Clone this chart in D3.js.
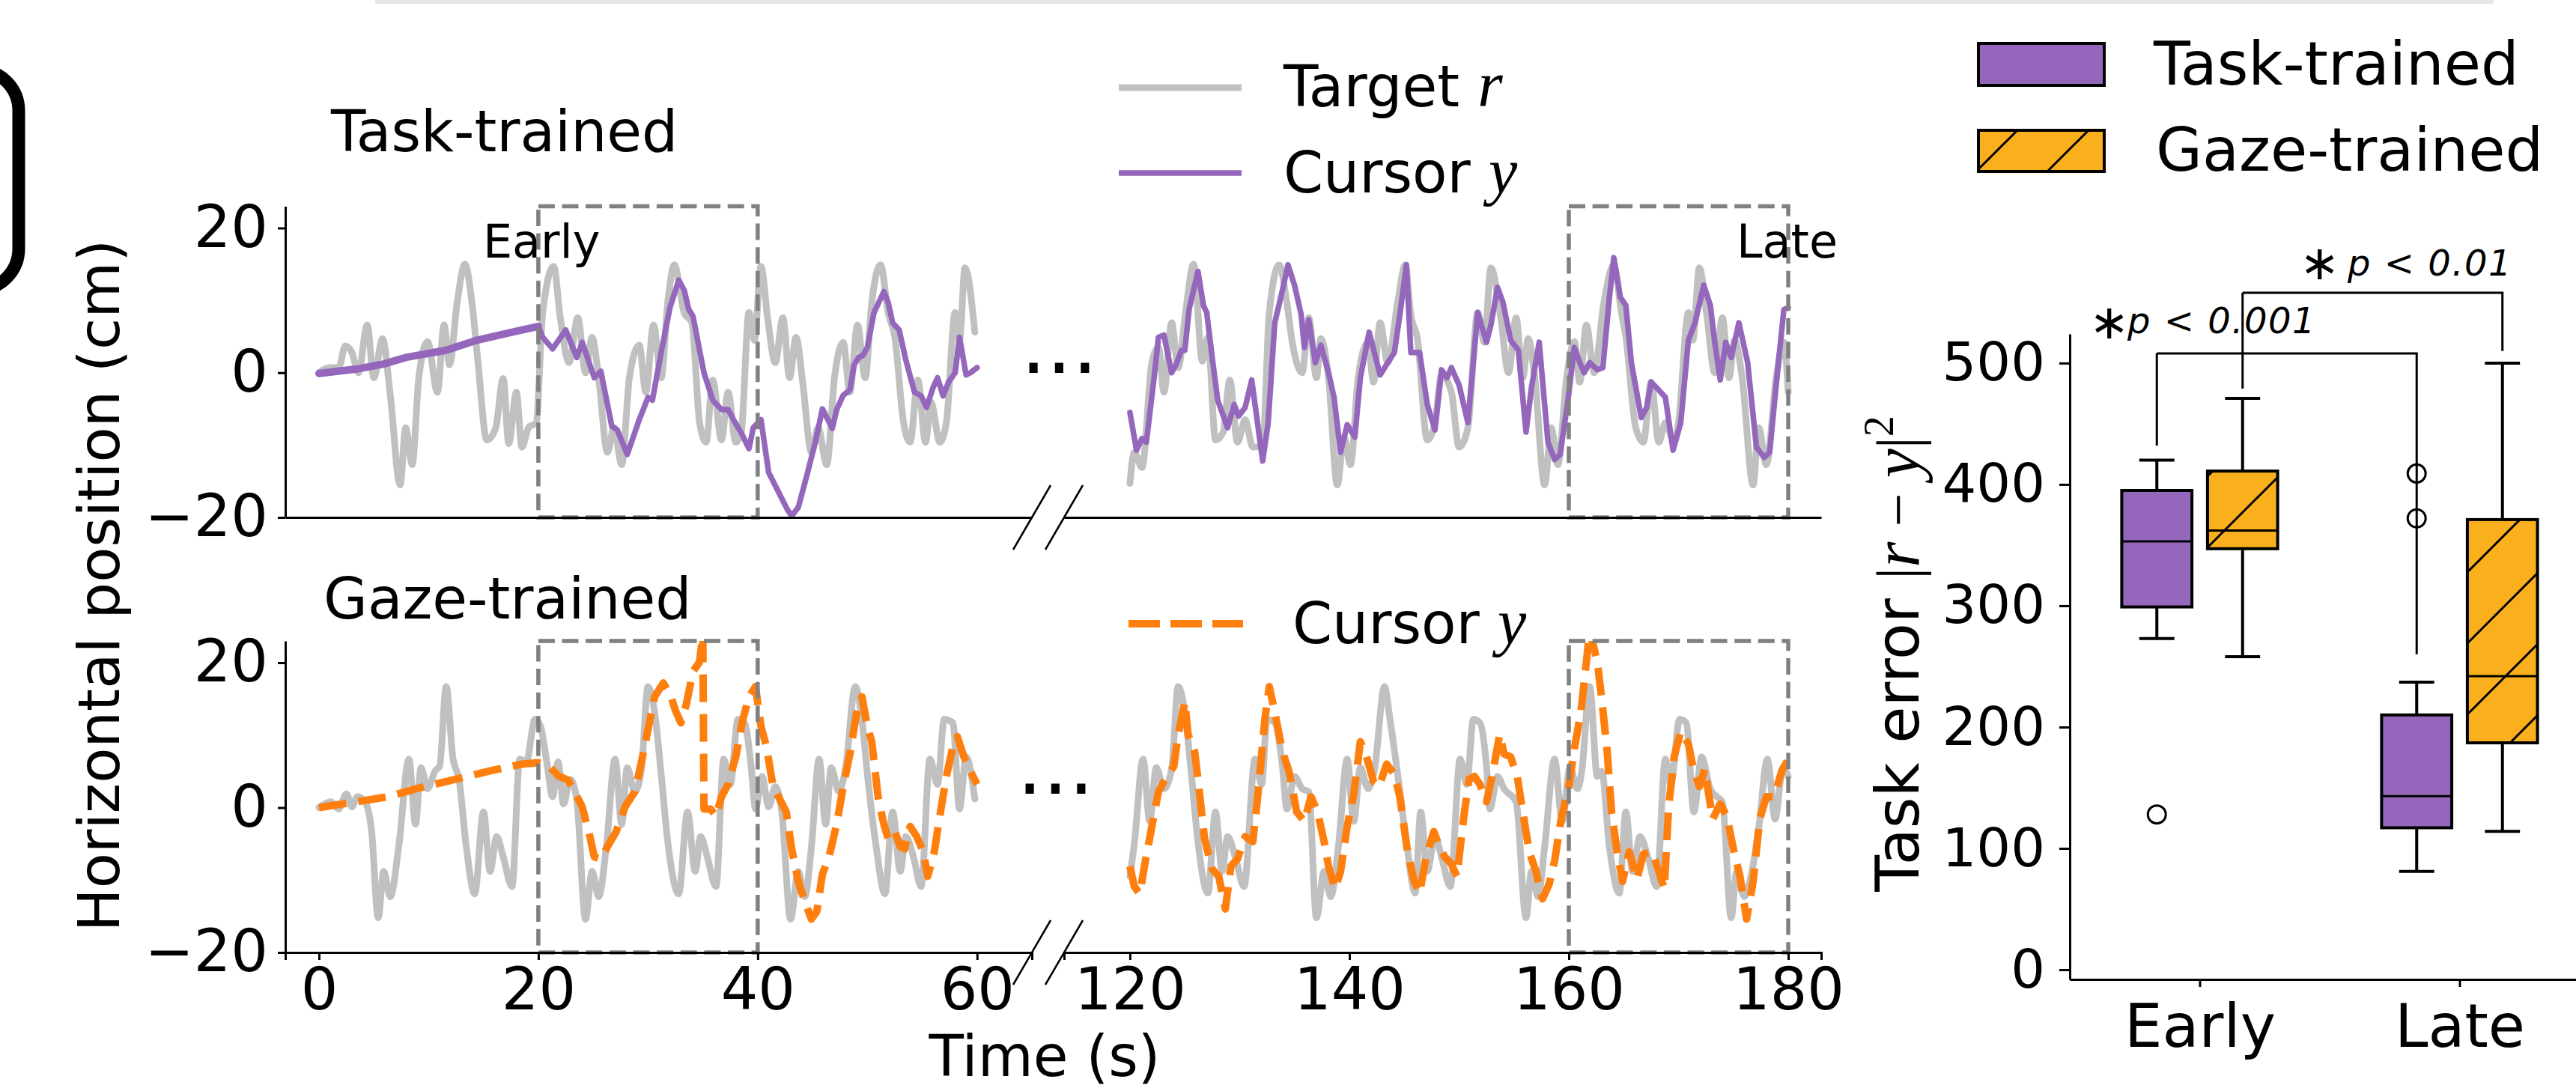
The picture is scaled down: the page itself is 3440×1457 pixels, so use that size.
<!DOCTYPE html>
<html>
<head>
<meta charset="utf-8">
<script src="https://cdn.jsdelivr.net/npm/d3@7/dist/d3.min.js"></script>
<style>
html,body{margin:0;padding:0;background:#fff;}
svg{display:block;}
</style>
</head>
<body>
<svg id="chart" width="3440" height="1457" xmlns="http://www.w3.org/2000/svg"></svg>
<script>
// ================= DATA =================
const posTicks = [-20, 0, 20];
const timeTicksEarly = [0, 20, 40, 60];
const timeTicksLate = [120, 140, 160, 180];
const windowEarly = [20, 40];
const windowLate = [160, 180];

// Task-trained panel: target r (time s, cm)
const targetTaskEarly = [[0,0],[0.9,0.7],[1.8,0.7],[2.4,3.7],[3.0,2.8],[3.6,0],[4.4,6.6],[5.0,-0.7],[5.8,4.7],[6.5,-3.1],[7.4,-15.5],[7.9,-7.6],[8.5,-12.7],[9.1,-0.7],[9.9,4.3],[10.8,-2.7],[11.4,6.6],[11.9,1.1],[12.6,9.7],[13.3,15.0],[14.0,9.0],[14.5,1.4],[15.3,-9.3],[16.1,-7.7],[16.8,-0.8],[17.3,-9.8],[18.0,-2.7],[18.5,-10.3],[19.1,-7.6],[19.8,-6.9],[20.4,8.3],[21.4,14.7],[22.0,7.6],[22.8,1.4],[23.6,7.6],[24.3,0],[24.9,4.9],[25.5,-0.7],[26.3,-11],[26.9,-7.6],[27.6,-12.7],[28.3,-0.7],[29.2,3.8],[29.8,-2.7],[30.5,6.6],[31.2,-0.7],[31.8,9.7],[32.4,14.9],[33.3,8.3],[34.0,6.9],[34.7,-6.9],[35.3,-9.6],[35.9,-1.0],[36.7,-9.3],[37.3,-2.7],[38.0,-9.6],[38.5,-8.2],[39.2,8.3],[39.7,4.5],[40.3,14.7],[40.9,7.6],[41.6,1.4],[42.3,7.6],[42.9,-0.7],[43.5,4.9],[44.1,-1.3],[44.9,-11],[45.5,-7.6],[46.3,-12.7],[47.0,-0.7],[47.8,4.2],[48.4,-2.7],[49.1,6.6],[49.8,-0.7],[50.4,9.7],[51.2,14.9],[51.9,8.3],[52.5,4.9],[53.3,-6.9],[53.9,-9.6],[54.6,-1.0],[55.3,-9.6],[55.8,-4.1],[56.6,-9.6],[57.2,-6.9],[58.0,8.3],[58.4,4.5],[58.9,14.5],[59.8,5.6]];
const targetTaskLate = [[120.0,-15.3],[120.4,-11],[121.1,-13.1],[122.0,1.4],[122.6,3.5],[123.1,-2.7],[123.8,6.9],[124.4,0.7],[125.1,8.7],[125.8,15.0],[126.6,1.6],[127.1,4.9],[127.8,-9.3],[128.5,-8.2],[129.1,-1.0],[129.8,-9.6],[130.5,-6.5],[131.2,-10.3],[132.1,-10],[132.7,8.3],[133.6,14.9],[134.3,9.7],[134.8,4.2],[135.7,0],[136.3,7.6],[137.0,-0.7],[137.4,4.7],[138.1,-0.7],[138.9,-15.5],[139.5,-8.9],[140.1,-12.7],[140.8,-0.7],[141.7,4.2],[142.2,-1.3],[142.8,6.9],[143.5,1.4],[144.4,9.7],[145.1,14.9],[145.6,8.0],[146.2,4.7],[147.1,-9.3],[147.8,-6.9],[148.4,-0.3],[149.3,-2.7],[150.0,-10.3],[150.8,-7.6],[151.7,8.3],[152.3,4.2],[152.9,14.5],[153.8,7.6],[154.5,0],[155.2,7.6],[155.8,-0.7],[156.3,4.7],[156.9,-0.7],[157.8,-15.5],[158.4,-7.6],[159.0,-12.7],[159.8,-0.7],[160.5,4.3],[161.0,-1.3],[161.6,6.6],[162.3,0],[163.2,9.7],[164.1,14.9],[164.8,8.3],[165.2,4.9],[166.1,-7.6],[166.8,-9.6],[167.5,-1.3],[168.2,-9.6],[168.8,-6.9],[169.6,-9.6],[170.0,-6.9],[170.9,8.3],[171.3,4.5],[171.9,14.5],[172.6,7.6],[173.3,0],[174.0,7.6],[174.6,-0.7],[175.1,4.5],[175.8,-0.7],[176.8,-15.5],[177.3,-7.6],[178.0,-12.7],[178.9,-0.7],[179.6,4.2],[180.0,-2.7]];
// Task-trained panel: cursor y
const cursorTaskWarmup = [[0,-0.1],[3.6,0.55],[5.9,1.2],[7.9,2.1],[11.6,3.1],[14.4,4.5],[17.3,5.5],[20.0,6.4]];
const cursorTaskEarly = [[20,6.4],[20.4,4.9],[21.3,3.3],[22.5,5.9],[23.5,2.1],[24.0,4.2],[25.1,-0.7],[25.7,0.2],[26.7,-7.4],[27.2,-7.9],[28.1,-11.3],[29.2,-6.5],[30.0,-3.4],[30.4,-3.8],[31.2,2.8],[32.0,9.0],[32.8,12.8],[33.3,11.4],[33.7,8.8],[34.1,7.8],[35.1,0],[35.9,-3.8],[36.7,-5.1],[37.3,-5.1],[37.8,-6.5],[38.6,-8.6],[39.2,-10.5],[39.6,-7.6],[40.3,-6.5],[41.0,-13.8],[41.8,-16.2],[42.7,-18.9],[43.1,-19.8],[43.7,-18.6],[44.5,-14.1],[45.3,-9.3],[45.9,-5.0],[46.8,-7.7],[47.2,-5.1],[47.8,-3.1],[48.4,-2.4],[48.8,1.1],[49.2,2.1],[49.6,2.4],[50.0,3.5],[50.6,8.3],[51.5,11.2],[51.9,9.7],[52.3,6.9],[52.9,5.9],[53.5,1.8],[54.3,-2.7],[54.9,-3.2],[55.4,-4.8],[56.0,-2.0],[56.4,-0.7],[56.9,-3.2],[57.4,-1.3],[58.0,0],[58.4,4.9],[59.0,-0.3],[59.4,0],[60.0,0.7]];
const cursorTaskLate = [[120.0,-5.5],[120.6,-10.7],[121.1,-9.1],[121.5,-9.6],[122.2,-0.7],[122.6,4.9],[123.1,5.2],[123.8,0],[124.2,1.1],[124.7,3.1],[125.0,3.1],[125.4,8.8],[126.2,14.0],[126.7,9.3],[127.0,8.3],[127.5,2.1],[128.0,-3.8],[128.9,-7.6],[129.5,-4.4],[129.9,-6.0],[130.5,-4.8],[131.1,-1.0],[132.1,-12.2],[132.6,-6.9],[133.2,6.9],[133.9,11.4],[134.4,14.9],[135.0,12.1],[135.6,8.1],[135.9,3.5],[136.3,7.3],[136.9,1.4],[137.4,3.8],[138.1,0],[138.6,-3.4],[139.2,-11],[139.8,-7.2],[140.5,-8.9],[141.0,-0.7],[141.8,5.6],[142.8,-0.3],[143.5,1.4],[144.1,2.8],[144.6,8.0],[145.2,14.9],[145.6,2.8],[146.4,2.8],[147.1,-4.4],[147.8,-7.9],[148.4,0.4],[148.9,-0.7],[149.3,0.7],[150.0,-1.7],[150.8,-6.9],[151.7,8.3],[152.5,4.2],[152.9,6.6],[153.5,11.8],[154.0,9.7],[154.7,4.5],[155.4,3.1],[156.1,-8.2],[156.6,-2.0],[157.3,4.2],[158.1,-9.6],[158.7,-12.0],[159.2,-11.3],[159.9,-4.1],[160.5,3.5],[161.0,1.4],[161.4,0],[161.9,1.4],[162.6,0.4],[163.1,0.7],[163.7,10.4],[164.1,15.9],[164.7,10.4],[165.2,9.3],[165.7,1.4],[166.6,-6.2],[167.1,-4.8],[167.5,-1.3],[168.2,-2.4],[168.8,-3.4],[169.5,-10.7],[170.2,-6.9],[170.9,4.5],[171.5,6.9],[172.3,12.1],[172.9,9.3],[173.3,4.2],[173.8,-1.0],[174.3,4.2],[174.8,2.1],[175.5,6.9],[176.3,1.4],[177.1,-10.3],[177.8,-11.7],[178.3,-11],[179.1,1.4],[179.6,8.7],[180.0,9.0]];

// Gaze-trained panel: target r
const targetGazeEarly = [[0,0],[1.1,0.8],[1.8,-0.2],[2.5,1.9],[3.0,0.1],[3.5,1.5],[4.2,0.8],[4.8,-3.3],[5.4,-15.2],[5.9,-8.8],[6.5,-12.3],[7.3,-5.0],[8.2,6.7],[8.8,-2.3],[9.3,5.5],[9.9,2.6],[10.6,5.1],[11.0,5.7],[11.6,16.7],[12.2,7.0],[12.8,3.6],[13.4,-5.0],[14.2,-11.9],[15.0,-0.6],[15.6,-8.8],[16.2,-4.0],[16.8,-6.8],[17.6,-10.9],[18.3,6.7],[18.9,6.3],[19.7,12.2],[20.2,11.2],[20.8,6.0],[21.3,1.5],[21.8,6.3],[22.3,0.5],[22.9,3.9],[23.5,1.2],[24.3,-15.4],[24.9,-8.8],[25.5,-12.3],[26.2,-5.4],[27.0,6.7],[27.6,-2.3],[28.1,5.5],[28.8,2.2],[29.4,5.3],[30.0,16.7],[30.6,13.2],[31.2,4.6],[31.8,-4.7],[32.8,-11.9],[33.6,-0.6],[34.3,-8.8],[34.8,-4.0],[35.4,-6.8],[36.2,-10.9],[36.9,6.7],[37.5,3.2],[38.2,12.2],[38.8,11.7],[39.4,5.7],[39.8,-0.2],[40.4,4.3],[41.0,0.1],[41.6,2.9],[42.2,-0.6],[43.0,-15.4],[43.7,-8.8],[44.3,-12.3],[44.9,-5.4],[45.6,6.7],[46.2,-2.3],[46.7,5.5],[47.4,2.2],[48.0,5.3],[48.9,16.7],[49.5,12.2],[50.0,4.6],[50.8,-5.4],[51.6,-11.9],[52.3,-0.6],[53.0,-8.8],[53.5,-4.0],[54.2,-6.8],[54.9,-10.9],[55.7,6.7],[56.4,3.2],[57.0,12.2],[57.8,11.7],[58.4,-0.2],[59.0,7.0],[59.8,1.2]];
const targetGazeLate = [[120.0,-9.5],[120.4,-5.0],[121.2,6.7],[121.8,-1.9],[122.4,5.5],[123.1,2.6],[123.8,5.3],[124.4,16.7],[125.0,13.2],[125.6,4.6],[126.2,-4.7],[127.1,-11.8],[127.8,-0.6],[128.4,-8.8],[128.9,-4.0],[129.6,-6.8],[130.4,-10.9],[131.4,6.7],[132.0,3.2],[132.5,12.2],[133.2,11.7],[133.9,5.7],[134.3,-0.2],[135.0,4.3],[135.7,2.6],[136.3,2.2],[137.0,-15.2],[137.7,-8.8],[138.3,-12.3],[139.0,-5.4],[139.8,6.7],[140.4,-1.9],[141.0,5.5],[141.7,2.6],[142.3,5.3],[143.2,16.7],[143.7,12.2],[144.4,4.6],[145.2,-4.7],[146.0,-11.8],[146.5,-0.6],[147.1,-8.8],[147.8,-4.0],[148.4,-6.8],[149.2,-10.9],[150.1,6.7],[150.7,3.2],[151.3,12.2],[151.9,11.7],[152.5,5.7],[152.8,-0.2],[153.5,4.3],[154.1,2.6],[155.2,0.8],[156.1,-15.2],[156.6,-8.8],[157.2,-12.3],[157.8,-5.4],[158.7,6.7],[159.4,-1.9],[160.1,5.5],[160.8,2.6],[161.2,5.3],[161.9,16.7],[162.6,4.3],[163.0,5.0],[163.7,-5.4],[164.6,-11.8],[165.2,-0.6],[165.8,-8.8],[166.5,-4.0],[167.2,-6.8],[168.0,-10.9],[168.8,6.7],[169.3,3.2],[170.1,12.2],[170.7,11.7],[171.4,-0.6],[172.1,7.0],[172.9,2.5],[173.5,1.5],[174.0,0.8],[174.8,-15.2],[175.3,-8.8],[176.0,-12.3],[176.6,-9.5],[177.3,-3.0],[178.1,6.7],[178.8,-1.6],[179.5,5.5],[180.0,4.3]];
// Gaze-trained panel: cursor y
const cursorGazeEarly = [[0,0],[3.0,0.7],[6.3,1.5],[9.1,2.7],[12.4,3.9],[15.7,5.1],[18.5,6.0],[20.0,6.2],[21.0,5.7],[21.8,4.4],[22.7,3.8],[23.4,1.9],[24.0,0.1],[24.7,-4.0],[25.1,-6.8],[25.7,-7.1],[26.3,-5.4],[27.1,-3.3],[27.9,0.1],[28.8,2.2],[29.4,6.3],[30.0,10.8],[30.6,15.3],[31.4,17.2],[32.1,15.3],[32.5,13.4],[33.0,11.7],[33.5,14.3],[34.1,18.8],[34.7,20.1],[35.0,24],[35.1,-0.2],[35.7,-0.2],[36.2,-1.2],[36.7,1.5],[37.3,3.2],[38.0,7.0],[38.6,11.9],[39.2,15.3],[39.8,16.7],[40.3,11.2],[40.8,8.4],[41.4,2.9],[42.0,1.2],[42.6,-0.6],[43.1,-5.7],[43.7,-10.2],[44.3,-13.0],[44.9,-15.4],[45.4,-14.3],[45.9,-9.2],[46.5,-6.8],[47.2,-2.3],[47.8,2.9],[48.4,7.4],[49.0,12.9],[49.5,15.3],[50.0,11.2],[50.4,9.1],[51.0,1.2],[51.5,-2.3],[51.9,-4.3],[52.5,-3.3],[53.0,-5.4],[53.4,-5.7],[53.9,-2.6],[54.5,-4.0],[55.1,-6.1],[55.5,-9.5],[56.1,-6.1],[56.6,-1.2],[57.2,4.3],[57.8,8.4],[58.2,9.8],[58.8,7.0],[59.4,5.0],[60.0,3.2]];
const cursorGazeLate = [[120.0,-8.1],[120.4,-10.9],[120.9,-11.9],[121.4,-7.4],[122.0,-2.6],[122.6,2.2],[123.1,3.6],[124.0,5.7],[124.4,10.1],[125.0,14.6],[125.3,10.1],[125.9,7.7],[126.2,3.9],[126.8,-4.3],[127.5,-8.5],[128.1,-9.5],[128.7,-14.0],[129.2,-8.1],[129.8,-7.1],[130.5,-4.0],[131.2,-4.7],[131.6,0.8],[132.3,12.2],[132.7,16.7],[133.2,13.2],[133.9,7.7],[134.5,5.0],[135.2,-0.6],[135.9,-1.9],[136.5,1.5],[137.1,-0.6],[137.7,-4.7],[138.1,-8.1],[138.7,-11.2],[139.2,-8.8],[139.8,-2.6],[140.4,1.9],[141.0,9.1],[141.5,7.4],[142.2,3.6],[142.7,2.9],[143.4,6.0],[144.1,4.6],[144.6,1.5],[145.3,-6.1],[145.9,-10.2],[146.4,-11.8],[147.0,-6.8],[147.7,-3.3],[148.2,-5.4],[148.7,-6.8],[149.3,-7.8],[149.8,-9.5],[150.4,-1.6],[150.9,3.9],[151.4,4.3],[151.9,3.2],[152.5,0.8],[153.0,4.3],[153.7,10.1],[154.1,7.4],[154.7,7.0],[155.3,4.3],[155.8,-0.6],[156.4,-6.1],[157.0,-8.8],[157.6,-12.6],[158.2,-10.6],[158.7,-7.4],[159.3,-1.6],[160.0,2.9],[160.5,8.1],[161.1,13.2],[161.6,20.1],[161.9,24.5],[162.6,20.1],[163.0,15.0],[163.5,7.7],[163.9,-0.6],[164.4,-6.1],[164.9,-10.2],[165.5,-6.1],[166.2,-9.9],[166.8,-6.4],[167.6,-6.1],[168.2,-8.8],[168.7,-11.2],[169.1,0.1],[169.6,7.0],[170.2,10.5],[170.9,8.8],[171.3,5.7],[171.9,2.9],[172.4,5.3],[173.1,-1.6],[173.8,0.5],[174.4,-1.2],[175.0,-5.7],[175.6,-9.5],[176.2,-15.4],[176.8,-10.2],[177.4,-1.6],[178.0,1.5],[178.7,1.5],[179.4,5.0],[180.0,6.7]];

// Box plot: task error |r - y|^2
const errorCategories = ["Early", "Late"];
const errorTicks = [0, 100, 200, 300, 400, 500];
const boxTaskTrained = [
  {cat: "Early", lo: 273, q1: 299, med: 353, q3: 395, hi: 420, out: [128]},
  {cat: "Late",  lo: 81,  q1: 117, med: 143, q3: 210, hi: 237, out: [372, 409]}
];
const boxGazeTrained = [
  {cat: "Early", lo: 258, q1: 347, med: 362, q3: 411, hi: 471, out: []},
  {cat: "Late",  lo: 114, q1: 187, med: 242, q3: 371, hi: 500, out: []}
];
const sigTests = [
  {group: "task", y: 508, yFrom: 432, yTo: 260, label: "p < 0.001"},
  {group: "gaze", y: 558, yFrom: 479, yTo: 510, label: "p < 0.01"}
];

// ================= DRAWING =================
const FONT = "DejaVu Sans, sans-serif";
const SERIF = "Liberation Serif, DejaVu Serif, serif";
const C_TARGET = "#c0c0c0", C_TASK = "#9467bd", C_GAZE = "#ff7f0e", C_GOLD = "#f9b01c", C_WIN = "#808080";

const svg = d3.select("#chart").attr("font-family", FONT);
const defs = svg.append("defs");

// decorative fragments from the surrounding figure
svg.append("rect").attr("x", 501).attr("y", 0).attr("width", 2829).attr("height", 5).attr("fill", "#e6e6e6");
svg.append("path")
  .attr("d", "M-100,93 L-30,93 A55,55 0 0 1 25,148 L25,332 A55,55 0 0 1 -30,387 L-100,387")
  .attr("fill", "none").attr("stroke", "#000").attr("stroke-width", 17);

// scales
const xEarly = d3.scaleLinear().domain([-3.07, 65]).range([381, 1378]);
const xLate = d3.scaleLinear().domain([114, 183]).range([1421, 2432]);
const yTop = d3.scaleLinear().domain([-20, 23]).range([691, 275.5]);
const yBot = d3.scaleLinear().domain([-20, 23]).range([1272, 856]);

function styleAxis(g, fs) {
  g.attr("font-family", FONT).attr("font-size", fs);
  g.select(".domain").attr("stroke", "#000").attr("stroke-width", 3);
  g.selectAll(".tick line").attr("stroke", "#000").attr("stroke-width", 3);
  g.selectAll(".tick text").attr("fill", "#000");
}

const panels = [
  {y: yTop, key: "task", segs: [
    {x: xEarly, target: targetTaskEarly, cursors: [{d: cursorTaskWarmup, w: 10}, {d: cursorTaskEarly, w: 7.5}], win: windowEarly, ticks: timeTicksEarly, winLabel: "Early"},
    {x: xLate, target: targetTaskLate, cursors: [{d: cursorTaskLate, w: 7.5}], win: windowLate, ticks: timeTicksLate, winLabel: "Late"}
  ]},
  {y: yBot, key: "gaze", segs: [
    {x: xEarly, target: targetGazeEarly, cursors: [{d: cursorGazeEarly, w: 10}], win: windowEarly, ticks: timeTicksEarly},
    {x: xLate, target: targetGazeLate, cursors: [{d: cursorGazeLate, w: 10}], win: windowLate, ticks: timeTicksLate}
  ]}
];

panels.forEach((p, pi) => {
  p.segs.forEach((s, si) => {
    const id = `clip${pi}${si}`;
    const [x0, x1] = s.x.range();
    const [yb, yt] = p.y.range();
    defs.append("clipPath").attr("id", id).append("rect")
      .attr("x", x0).attr("y", yt).attr("width", x1 - x0).attr("height", yb - yt);
    const g = svg.append("g").attr("clip-path", `url(#${id})`);
    const lineT = d3.line().x(d => s.x(d[0])).y(d => p.y(d[1])).curve(d3.curveMonotoneX);
    g.append("path").datum(s.target).attr("d", lineT)
      .attr("fill", "none").attr("stroke", C_TARGET).attr("stroke-width", 9)
      .attr("stroke-linejoin", "round").attr("stroke-linecap", "round");
    const lineC = d3.line().x(d => s.x(d[0])).y(d => p.y(d[1]));
    s.cursors.forEach(c => {
      const path = g.append("path").datum(c.d).attr("d", lineC)
        .attr("fill", "none").attr("stroke", p.key === "task" ? C_TASK : C_GAZE)
        .attr("stroke-width", c.w).attr("stroke-linejoin", "round");
      if (p.key === "gaze") path.attr("stroke-dasharray", "37,16");
      else path.attr("stroke-linecap", "round");
    });
    // analysis window
    svg.append("rect")
      .attr("x", s.x(s.win[0])).attr("y", p.y(23))
      .attr("width", s.x(s.win[1]) - s.x(s.win[0])).attr("height", p.y(-20) - p.y(23))
      .attr("fill", "none").attr("stroke", C_WIN).attr("stroke-width", 5.5).attr("stroke-dasharray", "22,9.6");
    // bottom spine / axis
    const ax = d3.axisBottom(s.x).tickSizeOuter(0);
    if (pi === 1) ax.tickValues(s.ticks).tickSize(10).tickPadding(11);
    else ax.tickValues([]);
    const ga = svg.append("g").attr("transform", `translate(0,${yb})`).call(ax);
    styleAxis(ga, 78);
    // break marks
    const bx = si === 0 ? x1 : x0;
    svg.append("line").attr("x1", bx - 25).attr("y1", yb + 43).attr("x2", bx + 25).attr("y2", yb - 43)
      .attr("stroke", "#000").attr("stroke-width", 2.5);
    if (si === 0) {
      const gl = svg.append("g").attr("transform", `translate(${x0},0)`)
        .call(d3.axisLeft(p.y).tickValues(posTicks).tickSize(10).tickSizeOuter(0).tickPadding(13));
      styleAxis(gl, 78);
    }
    if (s.winLabel) {
      const lx = s.winLabel === "Early" ? s.x(s.win[0]) - 74 : s.x(s.win[1]) - 69;
      svg.append("text").attr("x", lx).attr("y", 344).attr("font-size", 62).text(s.winLabel);
    }
  });
});

// ellipses between the broken axes
svg.append("text").attr("x", 1363).attr("y", 498).attr("font-size", 108).text("...");
svg.append("text").attr("x", 1358).attr("y", 1060).attr("font-size", 108).text("...");

// panel titles
svg.append("text").attr("x", 442).attr("y", 202).attr("font-size", 76).text("Task-trained");
svg.append("text").attr("x", 432).attr("y", 826).attr("font-size", 76).text("Gaze-trained");

// line legends
function mathLabel(x, y, word, sym) {
  const t = svg.append("text").attr("x", x).attr("y", y).attr("font-size", 76);
  t.append("tspan").text(word + " ");
  t.append("tspan").attr("font-family", SERIF).attr("font-style", "italic").attr("font-size", 86).text(sym);
}
svg.append("line").attr("x1", 1494).attr("x2", 1658).attr("y1", 117).attr("y2", 117).attr("stroke", C_TARGET).attr("stroke-width", 9);
mathLabel(1714, 142, "Target", "r");
svg.append("line").attr("x1", 1494).attr("x2", 1658).attr("y1", 231).attr("y2", 231).attr("stroke", C_TASK).attr("stroke-width", 7.5);
mathLabel(1714, 257, "Cursor", "y");
svg.append("line").attr("x1", 1507).attr("x2", 1660).attr("y1", 833).attr("y2", 833).attr("stroke", C_GAZE).attr("stroke-width", 10).attr("stroke-dasharray", "42,14");
mathLabel(1726, 859, "Cursor", "y");

// axis titles
svg.append("text").attr("transform", "translate(159,782) rotate(-90)").attr("text-anchor", "middle")
  .attr("font-size", 77).text("Horizontal position (cm)");
svg.append("text").attr("x", 1395).attr("y", 1437).attr("text-anchor", "middle").attr("font-size", 76).text("Time (s)");

// ================= BOX PLOT =================
const xB = d3.scaleLinear().domain([-0.5, 1.5]).range([2764, 3458]);
const yB = d3.scaleLinear().domain([-8, 524]).range([1308, 446]);
const catIndex = d3.scaleOrdinal().domain(errorCategories).range([0, 1]);
const OFF = 0.165, BW = 0.27;

function hatch(id, ox) {
  const pat = defs.append("pattern").attr("id", id).attr("patternUnits", "userSpaceOnUse")
    .attr("x", ox).attr("y", 0).attr("width", 95).attr("height", 95);
  pat.append("rect").attr("width", 95).attr("height", 95).attr("fill", C_GOLD);
  pat.append("path").attr("d", "M-5,100 L100,-5 M-10,10 L10,-10 M85,105 L105,85")
    .attr("stroke", "#000").attr("stroke-width", 3);
}
hatch("hatchBox", 69);
hatch("hatchLeg", 18);

function drawBoxes(data, off, fill) {
  data.forEach(b => {
    const cx = xB(catIndex(b.cat) + off);
    const hw = (xB(BW) - xB(0)) / 2;
    const g = svg.append("g");
    g.append("line").attr("x1", cx).attr("x2", cx).attr("y1", yB(b.q3)).attr("y2", yB(b.hi)).attr("stroke", "#000").attr("stroke-width", 4);
    g.append("line").attr("x1", cx).attr("x2", cx).attr("y1", yB(b.q1)).attr("y2", yB(b.lo)).attr("stroke", "#000").attr("stroke-width", 4);
    [b.hi, b.lo].forEach(v => g.append("line").attr("x1", cx - hw / 2).attr("x2", cx + hw / 2)
      .attr("y1", yB(v)).attr("y2", yB(v)).attr("stroke", "#000").attr("stroke-width", 4));
    g.append("rect").attr("x", cx - hw).attr("y", yB(b.q3)).attr("width", 2 * hw).attr("height", yB(b.q1) - yB(b.q3))
      .attr("fill", fill).attr("stroke", "#000").attr("stroke-width", 4);
    g.append("line").attr("x1", cx - hw).attr("x2", cx + hw).attr("y1", yB(b.med)).attr("y2", yB(b.med)).attr("stroke", "#000").attr("stroke-width", 3);
    b.out.forEach(v => g.append("circle").attr("cx", cx).attr("cy", yB(v)).attr("r", 12)
      .attr("fill", "none").attr("stroke", "#000").attr("stroke-width", 3));
  });
}
drawBoxes(boxTaskTrained, -OFF, C_TASK);
drawBoxes(boxGazeTrained, OFF, "url(#hatchBox)");

const gyB = svg.append("g").attr("transform", "translate(2764,0)")
  .call(d3.axisLeft(yB).tickValues(errorTicks).tickSize(14).tickSizeOuter(0).tickPadding(19));
styleAxis(gyB, 72);
const gxB = svg.append("g").attr("transform", "translate(0,1308)")
  .call(d3.axisBottom(xB).tickValues([0, 1]).tickFormat(i => errorCategories[i]).tickSize(10).tickSizeOuter(0).tickPadding(23));
styleAxis(gxB, 80);

// significance brackets
sigTests.forEach((s, i) => {
  const off = s.group === "task" ? -OFF : OFF;
  const xa = xB(0 + off), xb = xB(1 + off);
  svg.append("path")
    .attr("d", `M${xa},${yB(s.y)} L${xa},${yB(s.yFrom)}`)
    .attr("fill", "none").attr("stroke", "#000").attr("stroke-width", 3);
  svg.append("path")
    .attr("d", `M${xa},${yB(s.y)} L${xb},${yB(s.y)} L${xb},${yB(s.yTo)}`)
    .attr("fill", "none").attr("stroke", "#000").attr("stroke-width", 3);
  const starX = i === 0 ? 2790 : 3071;
  const starCY = i === 0 ? 430 : 351;
  const textX = i === 0 ? 2841 : 3135;
  const textY = yB(s.y) - (i === 0 ? 27 : 23);
  svg.append("text").attr("x", starX).attr("y", starCY + 22).attr("font-size", 64).text("\u2217");
  svg.append("text").attr("x", textX).attr("y", textY).attr("font-size", 48)
    .attr("font-style", "italic").attr("letter-spacing", 1.5).text(s.label);
});

// box y label
const yl = svg.append("text").attr("transform", "translate(2562,873) rotate(-90)")
  .attr("text-anchor", "middle").attr("font-size", 80);
yl.append("tspan").text("Task error ");
yl.append("tspan").attr("font-family", SERIF).text("|");
yl.append("tspan").attr("font-family", SERIF).attr("font-style", "italic").attr("font-size", 88).text("r");
yl.append("tspan").attr("font-family", SERIF).text(" \u2212 ");
yl.append("tspan").attr("font-family", SERIF).attr("font-style", "italic").attr("font-size", 88).text("y");
yl.append("tspan").attr("font-family", SERIF).text("|");
yl.append("tspan").attr("font-family", SERIF).attr("font-size", 56).attr("dy", -34).text("2");

// box legend
svg.append("rect").attr("x", 2642).attr("y", 58).attr("width", 168).attr("height", 56)
  .attr("fill", C_TASK).attr("stroke", "#000").attr("stroke-width", 4);
svg.append("rect").attr("x", 2642).attr("y", 174).attr("width", 168).attr("height", 55)
  .attr("fill", "url(#hatchLeg)").attr("stroke", "#000").attr("stroke-width", 4);
svg.append("text").attr("x", 2876).attr("y", 113).attr("font-size", 80).text("Task-trained");
svg.append("text").attr("x", 2879).attr("y", 228).attr("font-size", 80).text("Gaze-trained");
</script>
</body>
</html>
